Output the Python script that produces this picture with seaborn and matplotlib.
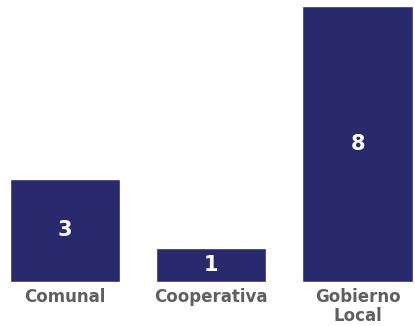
import matplotlib
matplotlib.use("Agg")
import matplotlib.pyplot as plt
import seaborn as sns
import pandas as pd

categories = ["Comunal", "Cooperativa", "Gobierno\nLocal"]
values = [3, 1, 8]

bar_color = "#29296E"

df = pd.DataFrame({"tipo": categories, "cantidad": values})

sns.set_style("white")
plt.rcParams["font.family"] = ["DejaVu Sans"]

fig = plt.figure(figsize=(4.15, 3.26), dpi=100)
ax = fig.add_axes([0, 44 / 326, 1, 276 / 326])

sns.barplot(data=df, x="tipo", y="cantidad", color=bar_color,
            width=0.755, saturation=1, ax=ax)

# value labels inside the bars
for i, v in enumerate(values):
    ax.text(i, v / 2, str(v), ha="center", va="center",
            color="white", fontsize=15, fontweight="bold")

ax.set_xlim(-0.444, 2.393)
ax.set_ylim(0, 8)
ax.set_xlabel("")
ax.set_ylabel("")
ax.set_yticks([])
ax.tick_params(axis="x", length=0, pad=4, labelsize=12,
               labelcolor="#5f5f5f")
for lbl in ax.get_xticklabels():
    lbl.set_fontweight("bold")
    lbl.set_linespacing(1.12)
sns.despine(left=True, bottom=True)

fig.savefig("out.png", dpi=100)
